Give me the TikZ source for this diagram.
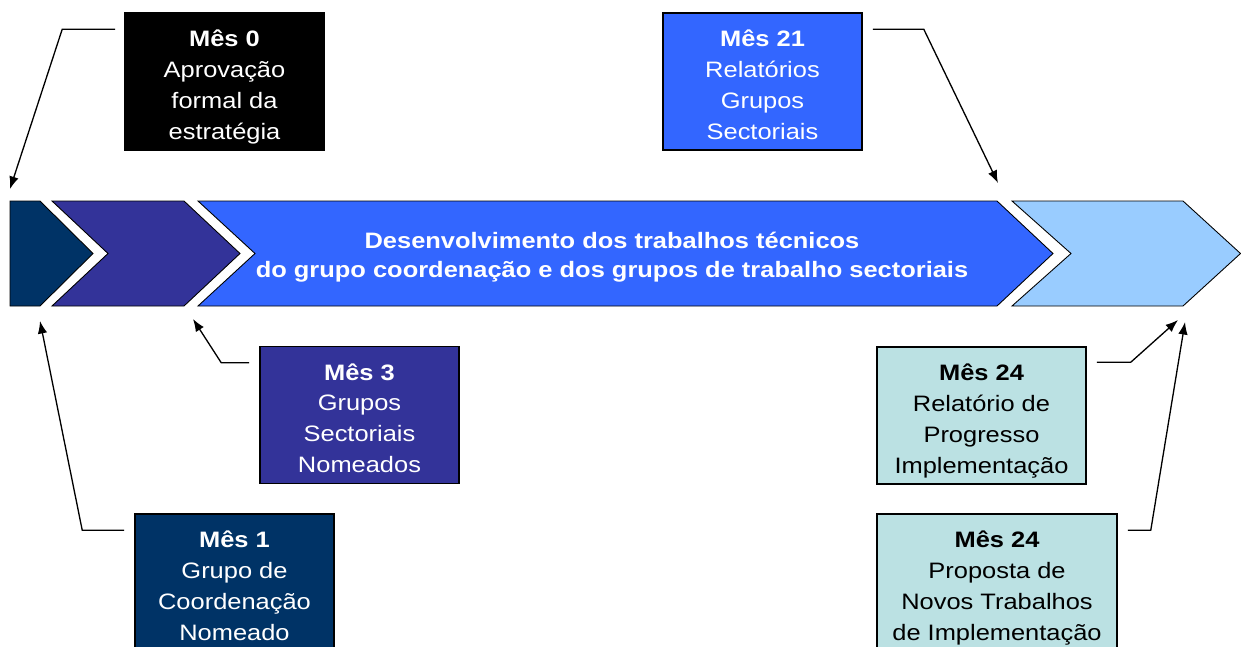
\documentclass[tikz,border=0pt]{standalone}
\usepackage{fontspec}
\setmainfont{Liberation Sans}[FakeStretch=1.14]
\usetikzlibrary{arrows.meta}

\definecolor{navy}{HTML}{003366}
\definecolor{indigo}{HTML}{333399}
\definecolor{royal}{HTML}{3366FF}
\definecolor{sky}{HTML}{99CCFF}
\definecolor{paleteal}{HTML}{BBE1E3}

\newcommand{\mesline}[1]{\rule{0pt}{16pt}\textbf{Mês #1}}
\newcommand{\lowstrut}{\rule[-3pt]{0pt}{3pt}}

\begin{document}
\begin{tikzpicture}[
  x=0.02cm, y=-0.02cm,
  chev/.style={draw=black,line width=0.5pt},
  milestone/.style={rectangle,draw=black,line width=0.9pt,align=center,text=white,
    minimum width=3.98cm,minimum height=2.74cm,inner sep=0pt,
    font=\fontsize{12.7}{17.6}\selectfont},
  lightbox/.style={milestone,fill=paleteal,text=black},
  edge/.style={line width=0.75pt,-{Latex[length=0.25cm,width=0.19cm]}}
]
\useasboundingbox (0,0) rectangle (1241,646);

% the four phases
\filldraw[chev,fill=navy] (10,201) -- (40,201) -- (93,253.5) -- (40,306) -- (10,306) -- cycle;
\filldraw[chev,fill=indigo] (52,201) -- (184,201) -- (240,253.5) -- (184,306) -- (52,306) -- (108,253.5) -- cycle;
\filldraw[chev,fill=royal] (198,201) -- (997,201) -- (1053,253.5) -- (997,306) -- (198,306) -- (255,253.5) -- cycle;
\filldraw[chev,fill=sky] (1012,201) -- (1183,201) -- (1240.5,253.5) -- (1183,306) -- (1012,306) -- (1071,253.5) -- cycle;

\node[text=white,align=center,font=\bfseries\fontsize{12.7}{16.5}\selectfont] (phase) at (612,257)
  {Desenvolvimento dos trabalhos técnicos\\do grupo coordenação e dos grupos de trabalho sectoriais};

% arrow targets on the band
\coordinate (t0) at (10,189);
\coordinate (t1) at (40,321);
\coordinate (t3) at (193,319);
\coordinate (t21) at (998,183);
\coordinate (t24a) at (1178,320);
\coordinate (t24b) at (1185,322);

% milestones
\node[milestone,fill=black] (m0) at (224.5,81.5) {\mesline{0}\\Aprovação\\formal da\\estratégia\lowstrut};
\node[milestone,fill=royal] (m21) at (762.5,81.5) {\mesline{21}\\Relatórios\\Grupos\\Sectoriais\lowstrut};
\node[milestone,fill=indigo] (m3) at (359.5,415) {\mesline{3}\\Grupos\\Sectoriais\\Nomeados\lowstrut};
\node[milestone,fill=navy] (m1) at (234.5,582.5) {\mesline{1}\\Grupo de\\Coordenação\\Nomeado\lowstrut};
\node[lightbox,minimum width=4.18cm] (m24a) at (981.5,415.5) {\mesline{24}\\Relatório de\\Progresso\\Implementação\lowstrut};
\node[lightbox,minimum width=4.8cm] (m24b) at (997,582.5) {\mesline{24}\\Proposta de\\Novos Trabalhos\\de Implementação\lowstrut};

\draw[edge] ([xshift=-0.18cm,yshift=-0.34cm]m0.north west) -- ++(-53,0) -- (t0);
\draw[edge] ([xshift=0.2cm,yshift=-0.34cm]m21.north east) -- ++(51,0) -- (t21);
\draw[edge] ([xshift=-0.2cm,yshift=-0.34cm]m3.north west) -- ++(-28,0) -- (t3);
\draw[edge] ([xshift=-0.2cm,yshift=-0.34cm]m1.north west) -- ++(-42,0) -- (t1);
\draw[edge] ([xshift=0.2cm,yshift=-0.32cm]m24a.north east) -- ++(34,0) -- (t24a);
\draw[edge] ([xshift=0.2cm,yshift=-0.34cm]m24b.north east) -- ++(23,0) -- (t24b);
\end{tikzpicture}
\end{document}
